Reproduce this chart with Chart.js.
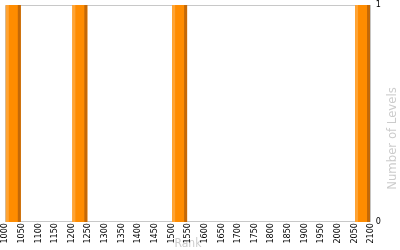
<!DOCTYPE html>
<html lang="en">
<head>
  <meta charset="UTF-8">
  <title>Levels per Rank</title>
  <style>
    html, body {
      margin: 0;
      padding: 0;
      background: #fff;
      overflow: hidden;
    }
    .chart-box {
      position: absolute;
      left: 0;
      top: 0;
      width: 400px;
      height: 251px;
    }
  </style>
  <script src="https://cdn.jsdelivr.net/npm/chart.js"></script>
</head>
<body>
  <div class="chart-box">
    <canvas id="levelsChart"></canvas>
  </div>

  <script>
    // histogram bins of 50 ranks, starting at each value
    const binStarts = [1000, 1050, 1100, 1150, 1200, 1250, 1300, 1350, 1400, 1450, 1500,
                       1550, 1600, 1650, 1700, 1750, 1800, 1850, 1900, 1950, 2000, 2050];
    const levelCounts = [1, 0, 0, 0, 1, 0, 0, 0, 0, 0, 1,
                         0, 0, 0, 0, 0, 0, 0, 0, 0, 0, 1];
    const rankTicks = [1000, 1050, 1100, 1150, 1200, 1250, 1300, 1350, 1400, 1450, 1500, 1550,
                       1600, 1650, 1700, 1750, 1800, 1850, 1900, 1950, 2000, 2050, 2100];
    const levelTicks = [0, 1];
    const binWidth = 50;

    const frameColor = '#c8c8c8';
    const titleColor = '#cccccc';
    const fontName = 'DejaVu Sans Condensed';

    // bars get a light left edge and a dark right edge
    const barShading = {
      id: 'barShading',
      afterDatasetsDraw(chart) {
        const ctx = chart.ctx;
        chart.getDatasetMeta(0).data.forEach(bar => {
          const p = bar.getProps(['x', 'y', 'base', 'width'], true);
          if (p.base - p.y < 1) return;
          const left = p.x - p.width / 2;
          const strip = p.width * 0.2;
          ctx.save();
          ctx.fillStyle = '#ffa434';
          ctx.fillRect(left, p.y, strip, p.base - p.y);
          ctx.fillStyle = '#c46908';
          ctx.fillRect(left + p.width - strip, p.y, strip, p.base - p.y);
          ctx.restore();
        });
      }
    };

    // top and left edges of the plot frame
    const plotFrame = {
      id: 'plotFrame',
      beforeDatasetsDraw(chart) {
        const a = chart.chartArea;
        const ctx = chart.ctx;
        ctx.save();
        ctx.strokeStyle = frameColor;
        ctx.lineWidth = 1;
        ctx.beginPath();
        ctx.moveTo(Math.round(a.left) + 0.5, Math.round(a.bottom));
        ctx.lineTo(Math.round(a.left) + 0.5, Math.round(a.top) + 0.5);
        ctx.lineTo(Math.round(a.right), Math.round(a.top) + 0.5);
        ctx.stroke();
        ctx.restore();
      }
    };

    // right axis title, reading bottom to top
    const rightTitle = {
      id: 'rightTitle',
      afterDraw(chart) {
        const a = chart.chartArea;
        const ctx = chart.ctx;
        ctx.save();
        ctx.translate(chart.width - 4, (a.top + a.bottom) / 2 + 25);
        ctx.rotate(-Math.PI / 2);
        ctx.font = '13px "' + fontName + '"';
        ctx.fillStyle = titleColor;
        ctx.textAlign = 'center';
        ctx.textBaseline = 'alphabetic';
        ctx.fillText('Number of Levels', 0, 0);
        ctx.restore();
      }
    };

    new Chart(document.getElementById('levelsChart'), {
      type: 'bar',
      data: {
        datasets: [{
          data: binStarts.map((s, i) => ({ x: s + binWidth / 2, y: levelCounts[i] })),
          backgroundColor: '#ff8c00',
          borderWidth: 0,
          categoryPercentage: 1,
          barPercentage: 0.9
        }]
      },
      options: {
        responsive: true,
        maintainAspectRatio: false,
        animation: false,
        layout: { padding: { left: 5, top: 5, right: 14, bottom: 0 } },
        plugins: {
          legend: { display: false },
          tooltip: { enabled: false }
        },
        scales: {
          x: {
            type: 'linear',
            offset: false,
            min: rankTicks[0],
            max: rankTicks[rankTicks.length - 1],
            afterBuildTicks: scale => {
              scale.ticks = rankTicks.map(v => ({ value: v }));
            },
            ticks: {
              autoSkip: false,
              minRotation: 90,
              maxRotation: 90,
              padding: 1,
              color: '#000',
              font: { family: fontName, size: 9 },
              callback: v => String(v)
            },
            grid: { display: false, drawTicks: false },
            border: { display: true, color: frameColor },
            title: {
              display: true,
              text: 'Rank',
              color: titleColor,
              padding: { top: -8, bottom: 0 },
              font: { family: fontName, size: 12 }
            }
          },
          y: {
            position: 'right',
            min: levelTicks[0],
            max: levelTicks[levelTicks.length - 1],
            afterBuildTicks: scale => {
              scale.ticks = levelTicks.map(v => ({ value: v }));
            },
            // the top label may hang over the frame, as in the original
            afterFit: scale => {
              scale.paddingTop = 0;
            },
            ticks: {
              padding: 5,
              color: '#000',
              font: { family: fontName, size: 9 }
            },
            grid: { display: false, drawTicks: false },
            border: { display: true, color: frameColor },
            title: { display: false }
          }
        }
      },
      plugins: [barShading, plotFrame, rightTitle]
    });
  </script>
</body>
</html>
